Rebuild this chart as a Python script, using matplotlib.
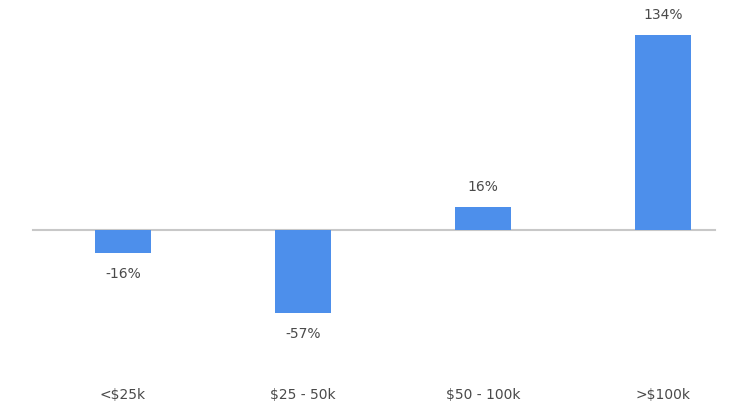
import matplotlib
matplotlib.use("Agg")
import matplotlib.pyplot as plt
import matplotlib.transforms as mtransforms

categories = ["<$25k", "$25 - 50k", "$50 - 100k", ">$100k"]
values = [-16, -57, 16, 134]
labels = ["-16%", "-57%", "16%", "134%"]

plt.rcParams['font.family'] = ['DejaVu Sans']

fig = plt.figure(figsize=(7.41, 4.17), dpi=100)
ax = fig.add_axes([0, 0, 1, 1])
x = list(range(len(categories)))
ax.bar(x, values, width=0.31, color='#4D8FEB', zorder=2)
ax.set_xlim(-123/180, 618/180)
ax.set_ylim(-187/1.455, 230/1.455)
ax.plot([-0.5, 592/180], [0, 0], color='#c8c8c8', lw=1.5, zorder=1)

for xi, v, lab in zip(x, values, labels):
    off = 20 if v >= 0 else -21
    ax.annotate(lab, (xi, v), xytext=(0, off * 0.72), textcoords='offset points',
                ha='center', va='center', fontsize=10, color='#4a4a4a')

trans = mtransforms.blended_transform_factory(ax.transData, ax.transAxes)
for xi, c in zip(x, categories):
    ax.text(xi, 1 - 395/417, c, transform=trans, ha='center', va='center',
            fontsize=10, color='#4a4a4a')

ax.axis('off')
fig.savefig('out.png', dpi=100)
